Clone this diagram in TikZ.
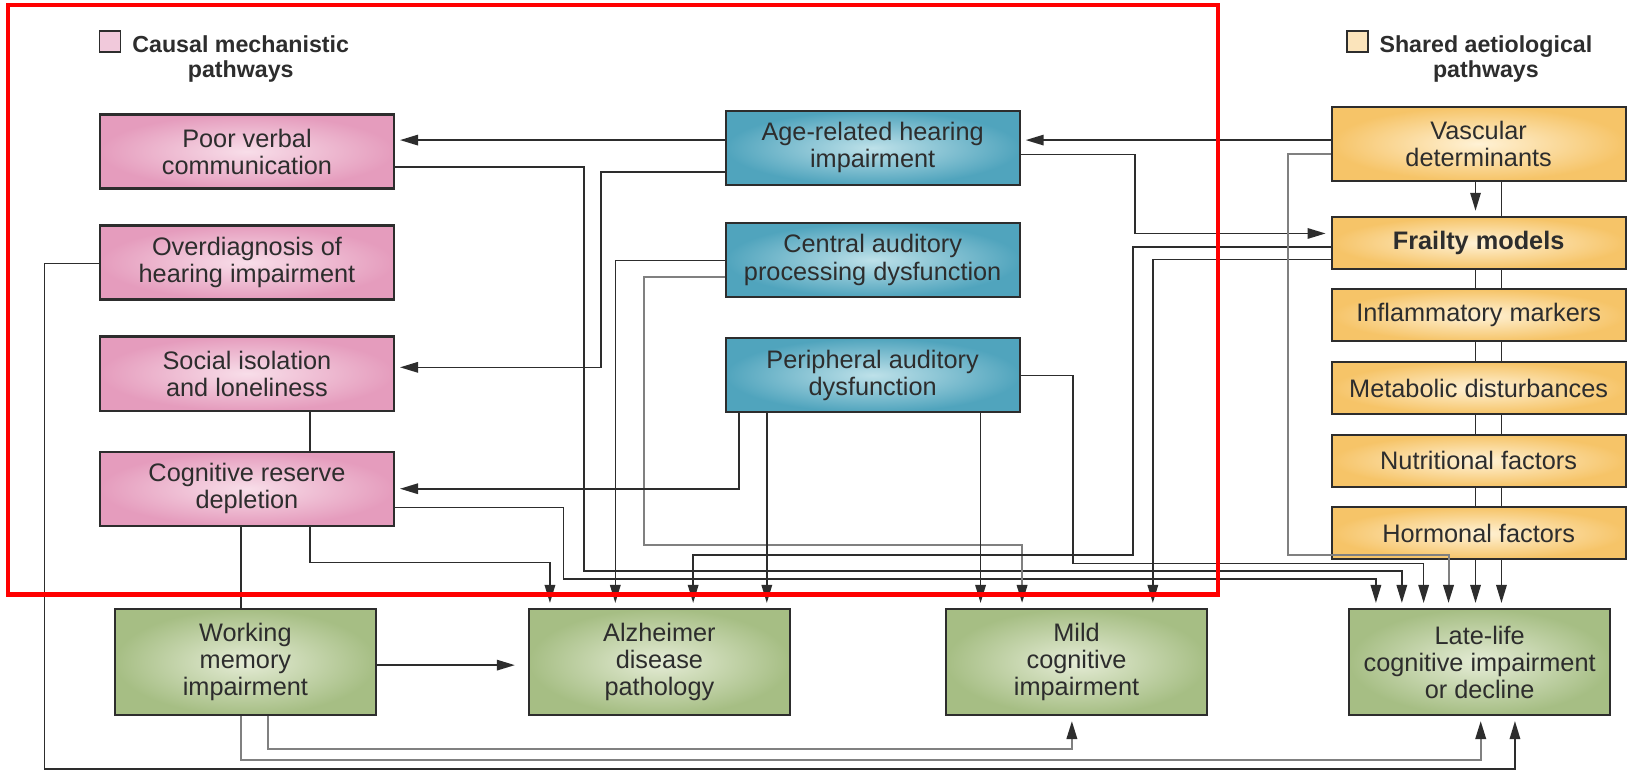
\documentclass[tikz,border=0pt]{standalone}
\usepackage{fontspec}
\setmainfont{Liberation Sans}
\usetikzlibrary{positioning}
\usetikzlibrary{arrows.meta}

\definecolor{ink}{RGB}{45,45,45}
\definecolor{mechin}{RGB}{248,222,233}
\definecolor{mechout}{RGB}{229,156,189}
\definecolor{hearin}{RGB}{190,225,233}
\definecolor{hearout}{RGB}{80,164,189}
\definecolor{sharedin}{RGB}{255,242,214}
\definecolor{sharedout}{RGB}{246,196,104}
\definecolor{outin}{RGB}{229,236,214}
\definecolor{outout}{RGB}{166,190,132}

\tikzset{
  box/.style={draw=ink, line width=0.6pt, align=center, inner sep=1pt, text=ink,
    font=\fontsize{7.2}{7.7}\selectfont},
  mech/.style={box, inner color=mechin, outer color=mechout, minimum width=29.4mm, minimum height=7.4mm},
  hear/.style={box, inner color=hearin, outer color=hearout, minimum width=29.4mm, minimum height=7.4mm},
  shared/.style={box, inner color=sharedin, outer color=sharedout, minimum width=29.4mm, minimum height=5.2mm},
  outcome/.style={box, inner color=outin, outer color=outout, minimum width=26.1mm, minimum height=10.6mm},
  key/.style={draw=ink, line width=0.5pt, minimum size=2.1mm, inner sep=0pt},
  keytext/.style={align=center, inner sep=0pt, text=ink, font=\fontsize{6.6}{7.1}\selectfont\bfseries},
  link/.style={ink, line width=0.45pt},
  faint/.style={black!50, line width=0.6pt},
  arr/.style={->, shorten >=0.5mm},
}

\begin{document}
\begin{tikzpicture}[x=0.10376mm, y=-0.10376mm, >={Triangle[length=1.8mm,width=1.05mm,color=ink]}]

  \useasboundingbox (0,0) rectangle (1568,742);

  % Legend
  \node[key, fill=mechout!55!white] (mechkey) at (106,40) {};
  \node[keytext] (mechtitle) at (232,57) {Causal mechanistic\\pathways};
  \node[key, fill=sharedout!45!white] (sharedkey) at (1308,40) {};
  \node[keytext] (sharedtitle) at (1432,57) {Shared aetiological\\pathways};

  % Define nodes
  \node[mech] (poor) at (238,146) {Poor verbal\\communication};
  \node[mech] (overdiag) at (238,253) {Overdiagnosis of\\hearing impairment};
  \node[mech] (social) at (238,360) {Social isolation\\and loneliness};
  \node[mech] (reserve) at (238,471) {Cognitive reserve\\depletion};

  \node[hear] (age) at (841,142.5) {Age-related hearing\\impairment};
  \node[hear] (central) at (841,250.5) {Central auditory\\processing dysfunction};
  \node[hear] (periph) at (841,361.5) {Peripheral auditory\\dysfunction};

  \node[shared, minimum height=7.4mm] (vasc) at (1425,138.5) {Vascular\\determinants};
  \node[shared] (frail) at (1425,234) {\textbf{Frailty models}};
  \node[shared, below=1.85mm of frail] (inflam) {Inflammatory markers};
  \node[shared, below=1.85mm of inflam] (metab) {Metabolic disturbances};
  \node[shared, below=1.85mm of metab] (nutri) {Nutritional factors};
  \node[shared, below=1.85mm of nutri] (hormo) {Hormonal factors};

  \node[outcome] (working) at (236.5,638) {Working\\memory\\impairment};
  \node[outcome] (alz) at (635.5,638) {Alzheimer\\disease\\pathology};
  \node[outcome] (mild) at (1037.5,638) {Mild\\cognitive\\impairment};
  \node[outcome] (late) at (1426,638) {Late-life\\cognitive impairment\\or decline};

  % Connect the nodes
  \draw[link,arr] (age.west |- 0,135) -- (poor.east |- 0,135);
  \draw[link,arr] (vasc.west |- 0,135) -- (age.east |- 0,135);
  \draw[link,arr] (age.east |- 0,149) -| (1094,225) -- (frail.west |- 0,225);
  \draw[link,arr] (age.west |- 0,166) -| (579,354) -- (social.east |- 0,354);

  \draw[link,arr] (poor.east |- 0,161) -| (563,550) -| (late.north -| 1351,0);
  \draw[link,arr] (overdiag.west |- 0,254) -| (43,741) -| (late.south -| 1460,0);
  \draw[link] (social.south -| 299,0) -- (reserve.north -| 299,0);
  \draw[link] (reserve.south -| 232,0) -- (working.north -| 232,0);
  \draw[link,arr] (reserve.south -| 299,0) |- (530,542) -- (alz.north -| 530,0);
  \draw[link,arr] (reserve.east |- 0,489) -| (543,558) -| (late.north -| 1326,0);

  \draw[link,arr] (central.west |- 0,251) -| (alz.north -| 593,0);
  \draw[faint,arr] (central.west |- 0,267) -| (621,525) -| (mild.north -| 985,0);
  \draw[link,arr] (periph.south -| 712,0) |- (reserve.east |- 0,471);
  \draw[link,arr] (periph.south -| 739,0) -- (alz.north -| 739,0);
  \draw[link,arr] (periph.south -| 945,0) -- (mild.north -| 945,0);
  \draw[link,arr] (periph.east |- 0,362) -| (1034,543) -| (late.north -| 1372,0);

  \draw[link,arr] (frail.west |- 0,238) -| (1092,535) -| (alz.north -| 668,0);
  \draw[link,arr] (frail.west |- 0,250) -| (mild.north -| 1111,0);
  \draw[faint,arr] (vasc.west |- 0,148) -| (1241,535) -| (late.north -| 1396,0);

  \draw[link,arr] (vasc.south -| 1422,0) -- (frail.north -| 1422,0);
  \draw[link] (vasc.south -| 1447,0) -- (frail.north -| 1447,0);
  \foreach \a/\b in {frail/inflam, inflam/metab, metab/nutri, nutri/hormo} {
    \draw[link] (\a.south -| 1422,0) -- (\b.north -| 1422,0);
    \draw[link] (\a.south -| 1447,0) -- (\b.north -| 1447,0);
  }
  \foreach \x in {1422,1447}
    \draw[link,arr] (hormo.south -| \x,0) -- (late.north -| \x,0);

  \draw[link,->,shorten >=1.3mm] (working.east |- 0,641) -- (alz.west |- 0,641);
  \draw[faint,arr] (working.south -| 258,0) |- (1033,722) -- (mild.south -| 1033,0);
  \draw[faint,arr] (working.south -| 232,0) |- (1427,732) -- (late.south -| 1427,0);

  % Highlight frame
  \draw[red, line width=1.2pt] (8,5) rectangle (1174,573);

\end{tikzpicture}
\end{document}
